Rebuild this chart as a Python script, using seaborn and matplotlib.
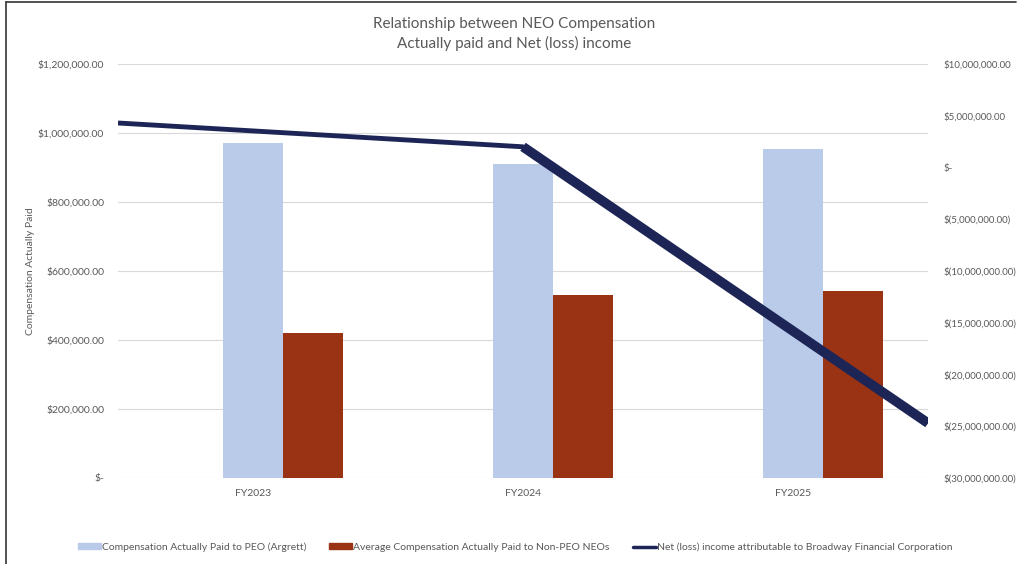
import matplotlib.pyplot as plt
import matplotlib.ticker as mticker
from matplotlib.lines import Line2D
from matplotlib.patches import Patch
import seaborn as sns
import pandas as pd

# data
years = ["FY2023", "FY2024", "FY2025"]
peo_cap = [971000, 910000, 954000]
non_peo_cap = [420000, 530000, 542000]
net_income = [4300000, 2000000, -24700000]

peo_label = "Compensation Actually Paid to PEO (Argrett)"
neo_label = "Average Compensation Actually Paid to Non-PEO NEOs"
ni_label = "Net (loss) income attributable to Broadway Financial Corporation"

c_peo = "#b9cbe9"
c_neo = "#9a3314"
c_line = "#1d2556"
c_text = "#595959"

sns.set_style("white")
plt.rcParams["font.family"] = ["Lato", "DejaVu Sans"]

df = pd.DataFrame({
    "year": years * 2,
    "value": peo_cap + non_peo_cap,
    "series": [peo_label] * 3 + [neo_label] * 3,
})

fig = plt.figure(figsize=(10.2, 5.64), dpi=100)
ax = fig.add_axes([118 / 1020, 1 - 478 / 564, 810 / 1020, 414 / 564])

# an empty first hue level keeps the PEO bar centred on its category (as in the Excel chart)
sns.barplot(data=df, x="year", y="value", hue="series",
            hue_order=["_blank", peo_label, neo_label],
            palette={"_blank": "white", peo_label: c_peo, neo_label: c_neo},
            width=0.6667, gap=0, saturation=1, legend=False, linewidth=0, ax=ax)
ax.set_xlim(-0.5, 2.5)
ax.set_ylim(0, 1200000)
ax.yaxis.set_major_locator(mticker.MultipleLocator(200000))
ax.yaxis.set_major_formatter(mticker.FuncFormatter(
    lambda v, p: "$-" if v == 0 else f"${v:,.2f}"))
ax.grid(axis="y", color="#d9d9d9", lw=0.8)
ax.set_axisbelow(True)
for s in ax.spines.values():
    s.set_visible(False)
ax.tick_params(axis="both", length=0, colors=c_text, labelsize=7.5)
ax.tick_params(axis="y", pad=10)
ax.tick_params(axis="x", pad=8)
ax.set_xlabel("")
ax.set_ylabel("Compensation Actually Paid", color=c_text, fontsize=7.5, labelpad=2)

# line on its own axes: points sit on the edges / middle of the plot area
ax2 = fig.add_axes(ax.get_position(), frameon=False)
sns.lineplot(x=years, y=net_income, color=c_line, lw=3.5, ax=ax2,
             solid_capstyle="butt")
sns.lineplot(x=years[1:], y=net_income[1:], color=c_line, lw=7, ax=ax2,
             solid_capstyle="butt")
ax2.set_xlim(0, 2)
ax2.set_ylim(-30000000, 10000000)
ax2.xaxis.set_visible(False)
ax2.yaxis.tick_right()
ax2.yaxis.set_major_locator(mticker.MultipleLocator(5000000))
ax2.yaxis.set_major_formatter(mticker.FuncFormatter(
    lambda v, p: "$-" if v == 0 else (f"${v:,.2f}" if v > 0 else f"$({-v:,.2f})")))
ax2.tick_params(axis="y", length=0, colors=c_text, labelsize=7, pad=11)
ax2.set_ylabel("")
for s in ax2.spines.values():
    s.set_visible(False)

fig.text(0.504, 0.94, "Relationship between NEO Compensation\nActually paid and Net (loss) income",
         ha="center", va="center", fontsize=11, color=c_text, linespacing=1.45)

handles = [Patch(color=c_peo), Patch(color=c_neo), Line2D([], [], color=c_line, lw=2.5)]
fig.legend(handles, [peo_label, neo_label, ni_label], loc="center",
           bbox_to_anchor=(0.505, 0.03), ncol=3, frameon=False, fontsize=7.5,
           handlelength=2.2, handleheight=0.5, handletextpad=0.1, columnspacing=2.2,
           labelcolor=c_text)

# chart border (left and top edges visible in the screenshot)
fig.add_artist(Line2D([6 / 1020, 6 / 1020], [0, 1 - 2 / 564], color="#333333", lw=1.2))
fig.add_artist(Line2D([6 / 1020, 1016 / 1020], [1 - 2 / 564, 1 - 2 / 564], color="#333333", lw=1.2))

fig.savefig("out.png", dpi=100)
